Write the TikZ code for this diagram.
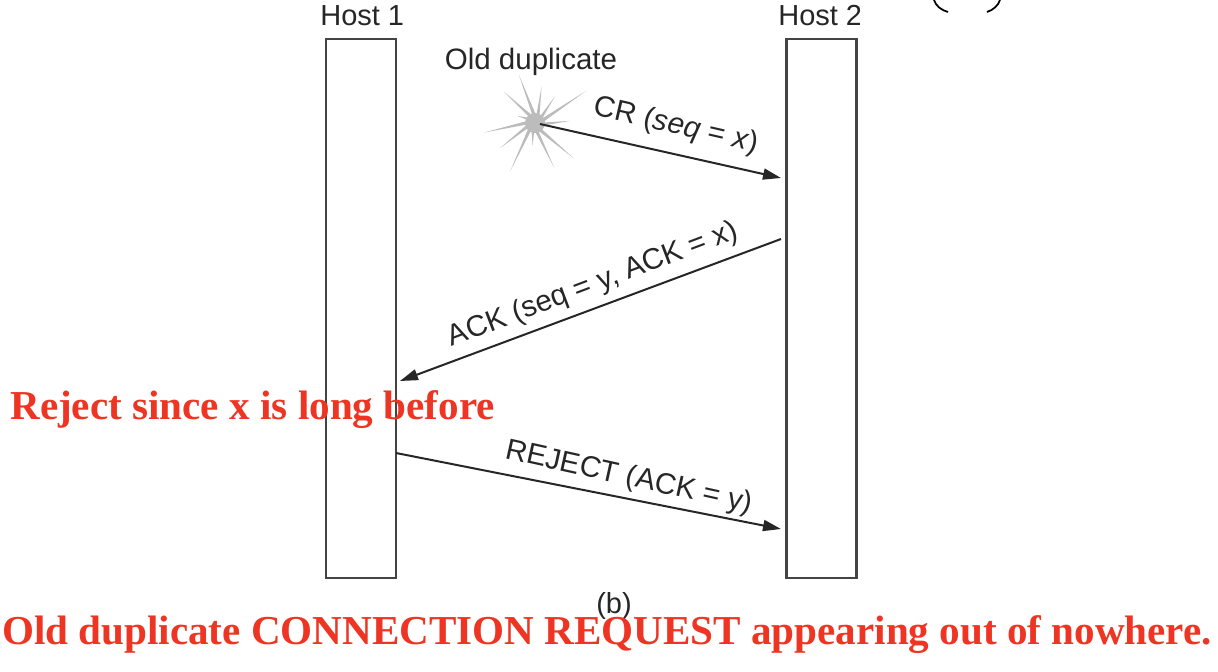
\documentclass[tikz,border=0pt]{standalone}
\usepackage{fontspec}
\setmainfont{Liberation Sans}
\newfontfamily\redfont{Liberation Serif}
\usetikzlibrary{arrows.meta}
\definecolor{notered}{HTML}{EE3524}
\definecolor{linegray}{HTML}{444444}
\definecolor{inkgray}{HTML}{262626}
\definecolor{burstgray}{HTML}{BCBCBC}
\tikzset{
  hostbox/.style={draw=linegray,line width=0.045cm,fill=white,minimum width=1.4cm,minimum height=10.78cm,inner sep=0pt},
  hostlabel/.style={text=inkgray,font=\fontsize{16.5}{18}\selectfont,inner sep=0pt},
  msglabel/.style={text=inkgray,font=\fontsize{16.8}{18}\selectfont,inner sep=0pt},
  notelabel/.style={text=notered,font=\redfont\bfseries\fontsize{23.4}{26}\selectfont,inner sep=0pt},
  msgarrow/.style={-{Stealth[length=0.36cm,width=0.22cm,inset=0pt]},color=inkgray,line width=0.04cm}
}
\begin{document}
\begin{tikzpicture}[x=0.02cm,y=-0.02cm]
\useasboundingbox (0,0) rectangle (1218,672);
% hosts
\node [hostbox] (hostA) at (361,308.5) {};
\begin{scope}
\clip (700,0) rectangle (859,600);
\node [hostbox] (hostB) at (821.5,308.5) {};
\node [hostlabel,anchor=west] (hostBname) at (778,16) {Host 2};
\end{scope}
\node [hostlabel,anchor=west] (hostAname) at (320,16) {Host 1};
% burst
\foreach \ang/\len in {113/51,86/37,60/33,36/60,10/35,-38/52,-62/48,-86/23,-113/54,-139/43,-165/52,170/19,140/44}
  \fill [burstgray] (535,123) ++(-\ang+90:4) -- ++(-\ang:\len) -- (535,123) ++(-\ang-90:4) -- cycle;
\fill [burstgray] (535,123) circle (10);
\coordinate (burst) at (540,124);
\node [msglabel] (oldlabel) at (531,62) {Old duplicate};
% messages
\coordinate (crEnd) at (781,178);
\coordinate (ackStart) at (781,239);
\coordinate (ackEnd) at (400,381);
\coordinate (rejStart) at (396,453);
\coordinate (rejEnd) at (781,529);
\draw [msgarrow] (burst)--(crEnd);
\draw [msgarrow] (ackStart)--(ackEnd);
\draw [msgarrow] (rejStart)--(rejEnd);
\node [msglabel,rotate=-13] (crlabel) at (676,126) {CR (\textit{seq} = \textit{x})};
\node [msglabel,rotate=20.7] (acklabel) at (593,285) {ACK (seq = y, ACK = x)};
\node [msglabel,rotate=-12.5] (rejlabel) at (629,478) {REJECT (ACK = y)};
\node [hostlabel] (caption) at (614,606) {(b)};
% cut off mark
\draw [color=black,line width=0.035cm] (934,0) .. controls (936,6) and (941,10) .. (948,12);
\draw [color=black,line width=0.035cm] (1000,0) .. controls (998,6) and (993,10) .. (987,12);
% red notes
\node [notelabel,anchor=west] (rejectnote) at (10,410) {Reject since x is long before};
\node [notelabel] (bottomnote) at (607,635) {Old duplicate CONNECTION REQUEST appearing out of nowhere.};
\end{tikzpicture}
\end{document}
